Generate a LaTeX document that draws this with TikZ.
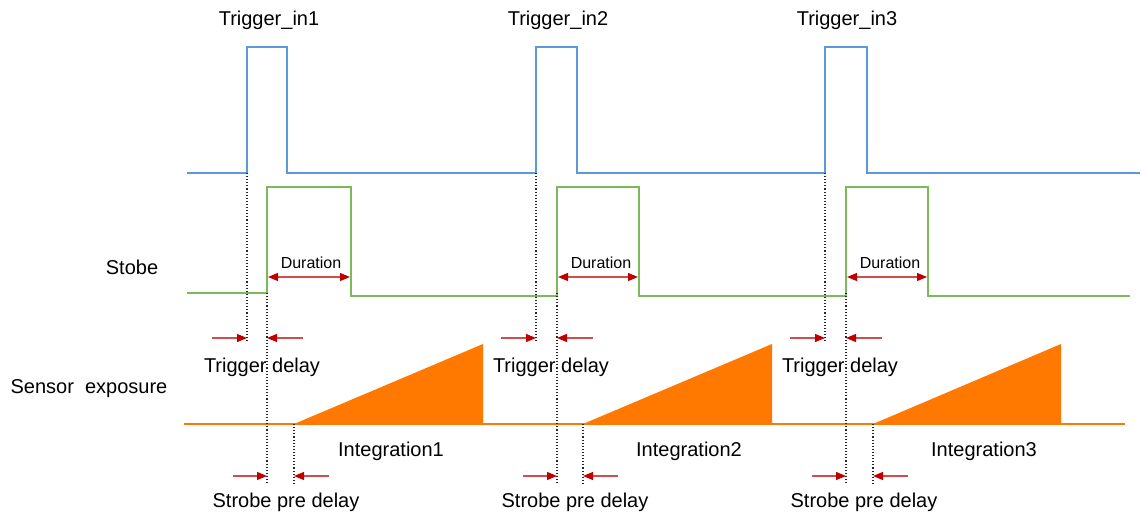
\documentclass[tikz,border=0pt]{standalone}
\usepackage{fontspec}
\setmainfont{Liberation Sans}
\usetikzlibrary{arrows.meta}
\definecolor{trigblue}{HTML}{5B9BD5}
\definecolor{strobegreen}{HTML}{7DB95A}
\definecolor{expoorange}{HTML}{FF7800}
\definecolor{arrred}{HTML}{C00000}

\begin{document}
\begin{tikzpicture}[
  x=0.5pt, y=-0.5pt,
  font=\fontsize{10}{12}\selectfont,
  lbl/.style={inner sep=0pt, anchor=base},
  wave/.style={line width=0.75pt},
  guide/.style={densely dotted, line width=0.55pt, black!85},
  arr/.style={-{Triangle[length=5pt,width=4pt,color=arrred]}, draw=arrred!70,
              line width=0.6pt},
  dur/.style={{Triangle[length=5pt,width=4pt,color=arrred]}-{Triangle[length=5pt,width=4pt,color=arrred]},
              draw=arrred!70, line width=0.6pt}
]
\useasboundingbox (0,0) rectangle (1142,519);

% waveforms
\draw[wave, trigblue] (187,173) -| (247,47) -| (287,173) -| (536,47) -| (577,173)
  -| (825,47) -| (867,173) -- (1140,173);
\draw[wave, strobegreen] (187,293) -| (267,187) -| (351,296) -| (557,187) -| (639,296)
  -| (846,187) -| (928,296) -- (1130,296);
\draw[wave, expoorange] (184,424) -- (1125,424);

\node[lbl] (stobe) at (132,274) {Stobe};
\node[lbl] (sensor) at (89,393) {Sensor\ \ exposure};

\foreach \t/\s/\d/\e/\ix/\n in {247/267/351/294/391/1, 536/557/639/583/689/2,
                                825/846/928/873/984/3} {
  \fill[expoorange] (\e,424) -- (\t+236,344) -- (\t+236,424) -- cycle;

  \coordinate (trig\n) at (\t,173);
  \coordinate (trigend\n) at (\t,343);
  \coordinate (strb\n) at (\s,293);
  \coordinate (strbend\n) at (\s,485);
  \coordinate (integ\n) at (\e,424);
  \coordinate (integend\n) at (\e,485);
  \draw[guide] (trig\n) -- (trigend\n);
  \draw[guide] (strb\n) -- (strbend\n);
  \draw[guide] (integ\n) -- (integend\n);

  \coordinate (tda\n) at (\t-35,338);
  \coordinate (tdb\n) at (\s+36,338);
  \draw[arr] (tda\n) -- (trig\n |- tda\n);
  \draw[arr] (tdb\n) -- (strb\n |- tdb\n);

  \coordinate (spa\n) at (\s-34,476);
  \coordinate (spb\n) at (\e+35,476);
  \draw[arr] (spa\n) -- (strb\n |- spa\n);
  \draw[arr] (spb\n) -- (integ\n |- spb\n);

  \coordinate (dura\n) at (\s+1,277);
  \coordinate (durb\n) at (\d-1,277);
  \draw[dur] (dura\n) -- (durb\n);

  \node[lbl] (tin\n) at (\t+22,26) {Trigger\_in\n};
  \node[lbl, font=\fontsize{8}{10}\selectfont] (durlbl\n) at (\s+44,269) {Duration};
  \node[lbl] (tdl\n) at (\t+15,372) {Trigger delay};
  \node[lbl] (intl\n) at (\ix,456) {Integration\n};
  \node[lbl] (spd\n) at (\t+39,507) {Strobe pre delay};
}
\end{tikzpicture}
\end{document}
